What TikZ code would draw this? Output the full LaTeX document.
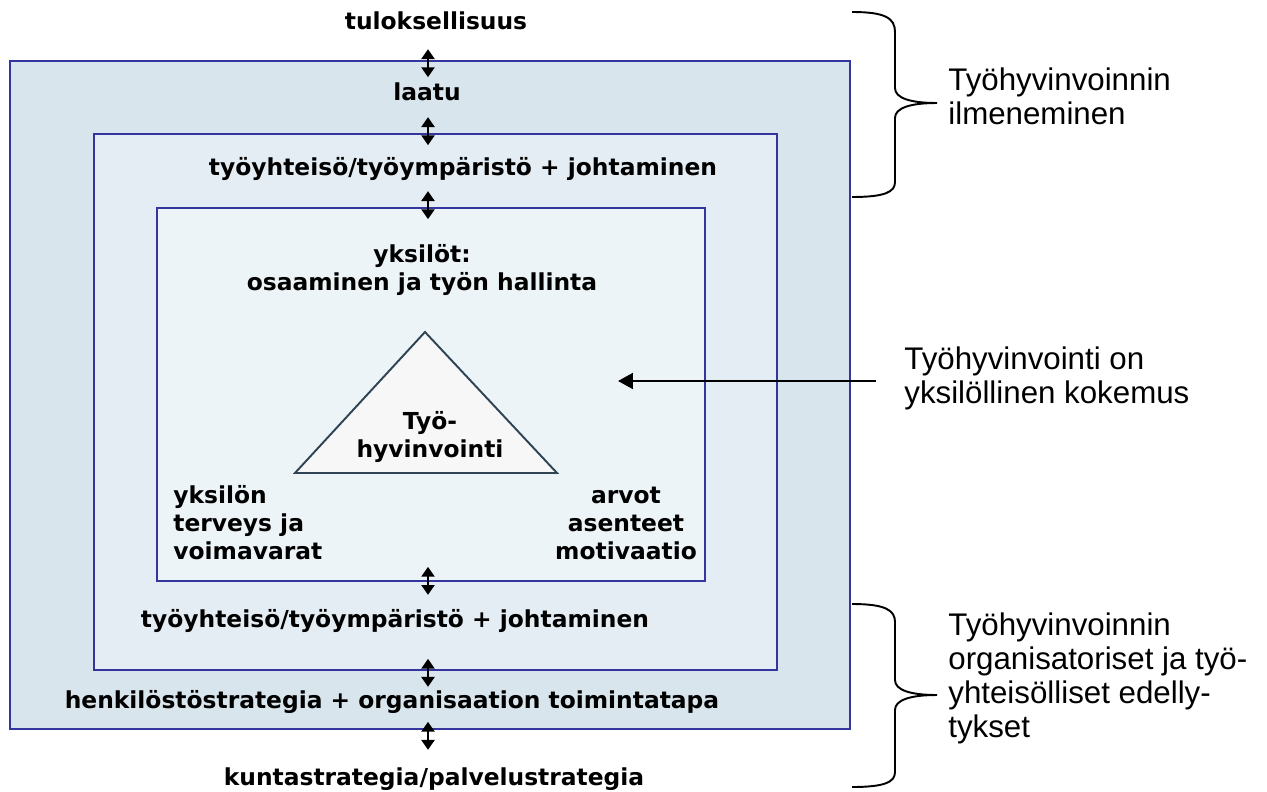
\documentclass[tikz,border=0pt]{standalone}
\usepackage{fontspec}
\setmainfont{DejaVu Sans}
\newfontfamily\arialfont{Liberation Sans}
\usetikzlibrary{arrows.meta,calc}
\definecolor{edgeblue}{HTML}{3535A0}
\definecolor{outerfill}{HTML}{D8E5EC}
\definecolor{midfill}{HTML}{E4EDF3}
\definecolor{innerfill}{HTML}{EDF4F7}
\definecolor{triline}{HTML}{2E4454}
\definecolor{trifill}{HTML}{F7F7F7}

\begin{document}
\begin{tikzpicture}[x=0.02cm,y=-0.02cm,
  box/.style={draw=edgeblue,line width=1pt,inner sep=0pt},
  lbl/.style={font=\fontsize{13.3}{15.9}\selectfont\bfseries,inner sep=0pt,align=center,anchor=base},
  side/.style={font=\arialfont\fontsize{17.8}{19.3}\selectfont,inner sep=0pt,align=left,anchor=base west},
  dbl/.style={{Triangle[width=7.4pt,length=5.6pt]}-{Triangle[width=7.4pt,length=5.6pt]},line width=1.25pt},
  pointer/.style={-{Triangle[width=9pt,length=8.5pt]},line width=1.3pt},
  curly/.style={line width=1.1pt}]
  \useasboundingbox (0,0) rectangle (1267,791);
  % nested boxes
  \node[box,fill=outerfill,minimum width=16.8cm,minimum height=13.36cm] (outer) at (430,395) {};
  \node[box,fill=midfill,minimum width=13.66cm,minimum height=10.72cm] (middle) at (435.5,402) {};
  \node[box,fill=innerfill,minimum width=10.96cm,minimum height=7.46cm] (inner) at (431,394.5) {};
  \draw[triline,fill=trifill,line width=1.1pt] (425,332) -- (557,473) -- (295,473) -- cycle;

  % labels (base = last line)
  \node[lbl] (tulos) at (436,30) {tuloksellisuus};
  \node[lbl] (laatu) at (427,100) {laatu};
  \node[lbl] (yhteiso1) at (463,175) {työyhteisö/työympäristö + johtaminen};
  \node[lbl] (yksilot) at (422,290) {yksilöt:\\osaaminen ja työn hallinta};
  \node[lbl] (hyvinv) at (430,457) {Työ-\\hyvinvointi};
  \node[lbl,align=left,anchor=base west] (terveys) at (173,559) {yksilön\\terveys ja\\voimavarat};
  \node[lbl] (arvot) at (626,559) {arvot\\asenteet\\motivaatio};
  \node[lbl] (yhteiso2) at (395,627) {työyhteisö/työympäristö + johtaminen};
  \node[lbl] (henk) at (392,708) {henkilöstöstrategia + organisaation toimintatapa};
  \node[lbl] (kunta) at (434,785) {kuntastrategia/palvelustrategia};

  % double arrows across the box edges
  \coordinate (ax) at (428,0);
  \foreach \b/\a/\s in {outer/north/-11,middle/north/-16,inner/north/-16,
                        inner/south/-15,middle/south/-12,outer/south/-8}
    \draw[dbl] ($(\b.\a -| ax)+(0,\s)$) -- ++(0,28);

  % right side
  \node[side] (ilmen) at (948,124) {Työhyvinvoinnin\\ilmeneminen};
  \node[side] (kokemus) at (904,403) {Työhyvinvointi on\\yksilöllinen kokemus};
  \node[side] (edell) at (948,737) {Työhyvinvoinnin\\organisatoriset ja työ-\\yhteisölliset edelly-\\tykset};
  \coordinate (tip) at (618,381);
  \draw[pointer] ($(kokemus.base west)+(-28,-22)$) -- (tip);

  % braces
  \draw[curly] (852,12) .. controls (885,12) and (895,18) .. (895,32) -- (895,88)
    .. controls (895,98) and (910,103) .. (937,103)
    .. controls (910,103) and (895,108) .. (895,118) -- (895,182)
    .. controls (895,192) and (885,197) .. (852,197);
  \draw[curly] (852,604) .. controls (885,604) and (895,610) .. (895,622) -- (895,680)
    .. controls (895,690) and (910,695) .. (937,695)
    .. controls (910,695) and (895,700) .. (895,710) -- (895,772)
    .. controls (895,782) and (885,787) .. (852,787);
\end{tikzpicture}
\end{document}
